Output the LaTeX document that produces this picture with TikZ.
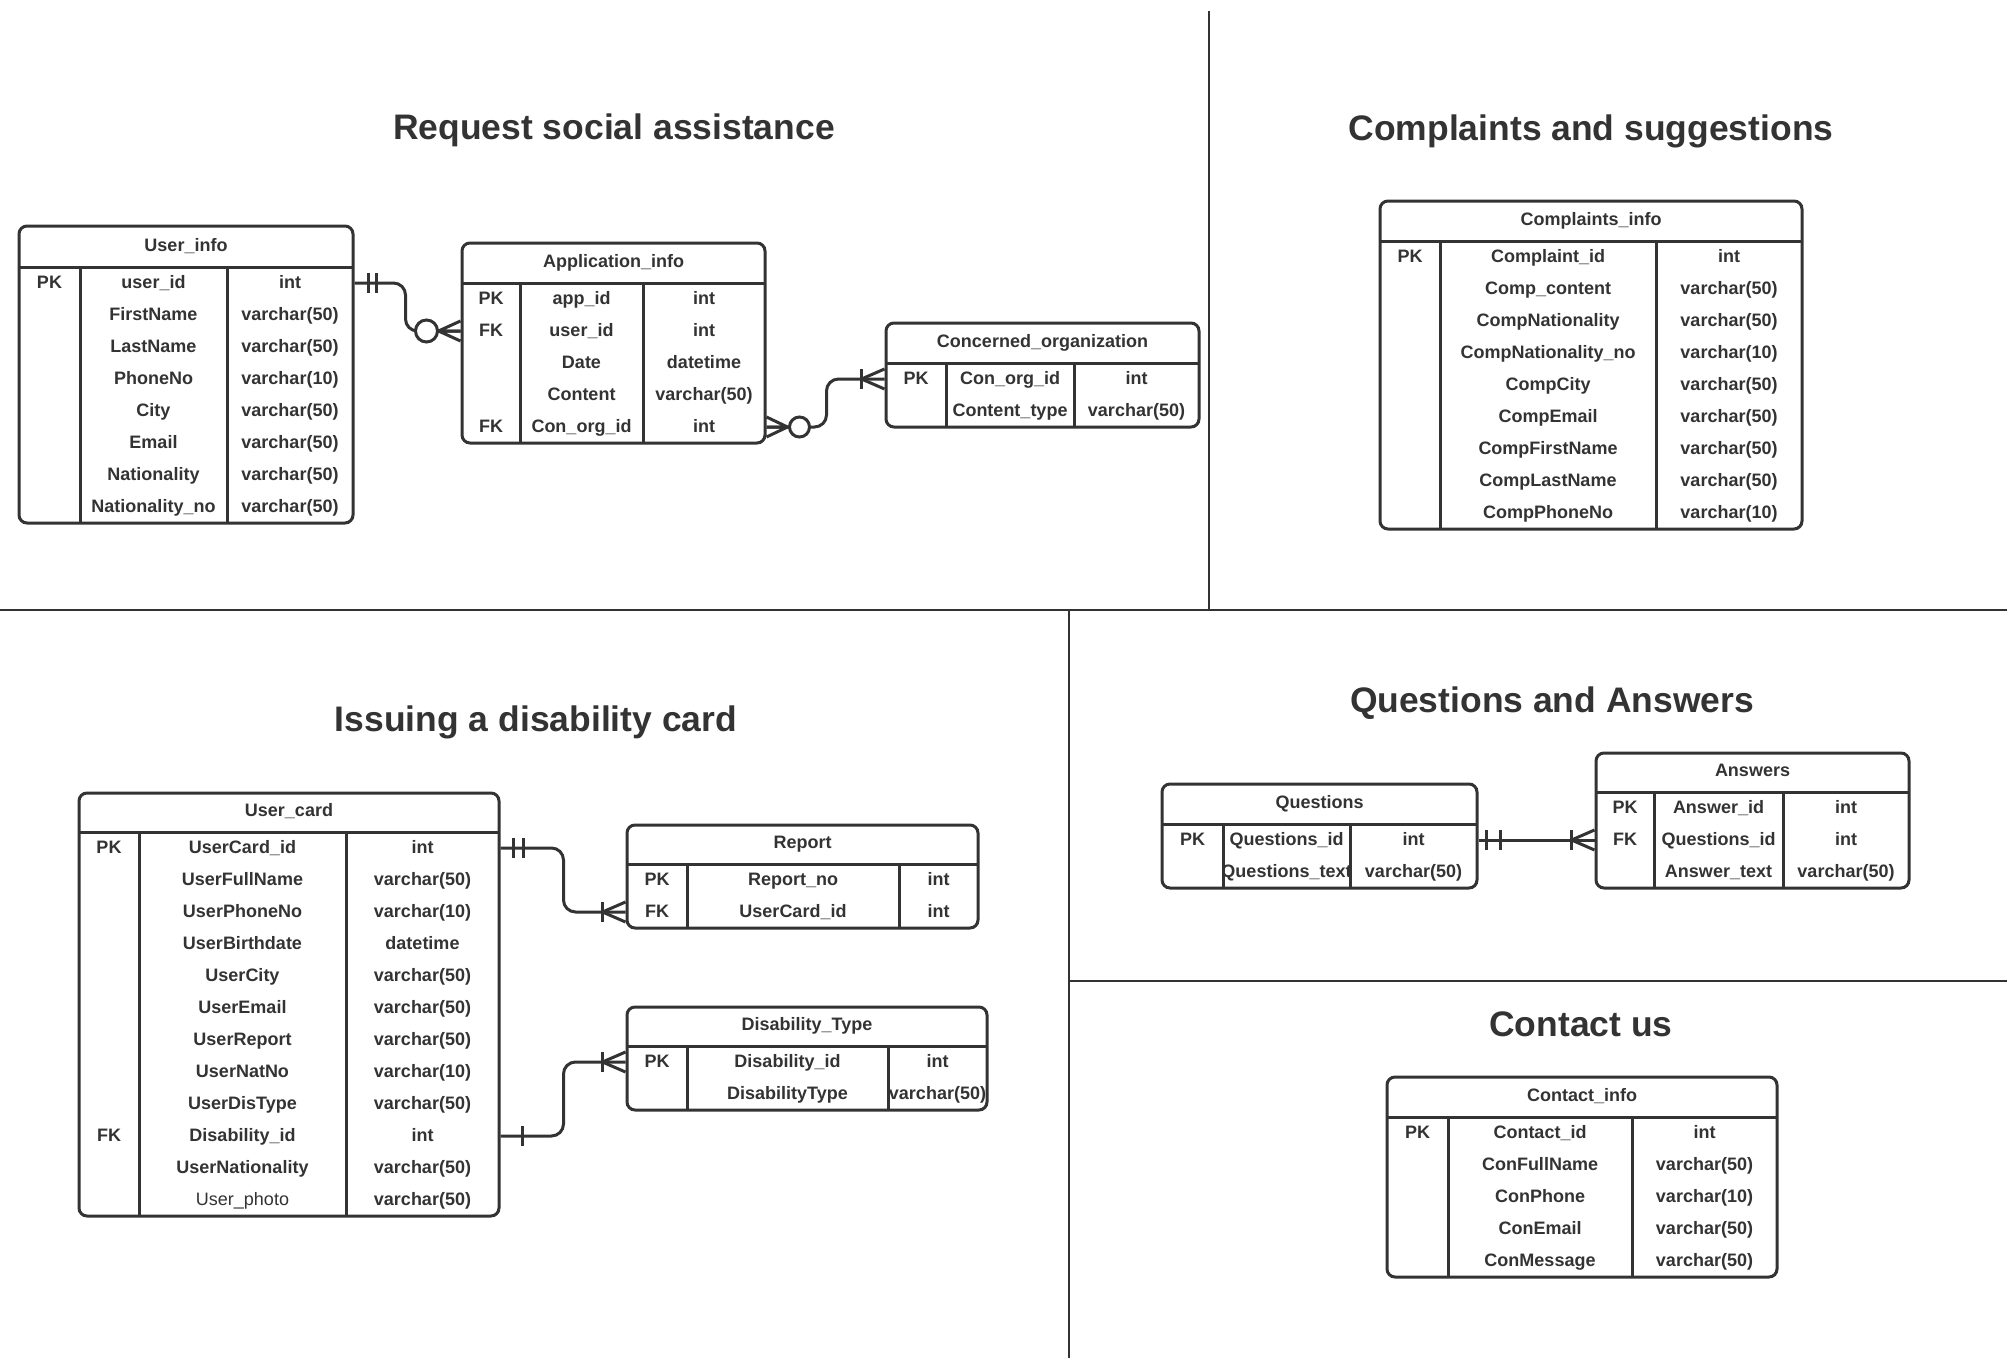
\documentclass[tikz,border=0pt]{standalone}
\usepackage{fontspec}
\setmainfont{Liberation Sans}
\usetikzlibrary{calc}
\definecolor{ink}{HTML}{333333}
\tikzset{
  tline/.style={draw=ink, line width=2.25pt},
  sline/.style={draw=ink, line width=1.5pt},
  tbox/.style={draw=ink, line width=2.25pt, rounded corners=6pt, inner sep=0pt, fill=none},
  cell/.style={anchor=base, inner sep=0pt, text=ink, font=\fontsize{13.5}{16}\selectfont\bfseries},
  ttl/.style={anchor=base, inner sep=0pt, text=ink, font=\fontsize{26.6}{30}\selectfont\bfseries},
  conn/.style={draw=ink, line width=2.25pt, rounded corners=9pt},
  ring/.style={draw=ink, line width=2.25pt, fill=white},
}
% #1 name, #2 L, #3 T, #4 R, #5 B, #6 header line y, #7 divider 1 x, #8 divider 2 x, #9 title
\newcommand\ertable[9]{%
  \node[tbox, minimum width={(#4-#2)*0.75pt}, minimum height={(#5-#3)*0.75pt}] (#1) at ({(#2+#4)/2},{(#3+#5)/2}) {};
  \draw[tline] (#2,#6) -- (#4,#6) (#7,#6) -- (#7,#5) (#8,#6) -- (#8,#5);
  \node[cell] (#1-h) at ({(#2+#4)/2},{#6-15.5}) {#9};
  \pgfmathsetmacro\hy{#6}%
  \pgfmathsetmacro\colA{(#2+#7)/2}%
  \pgfmathsetmacro\colB{(#7+#8)/2}%
  \pgfmathsetmacro\colC{(#8+#4)/2}%
}
% #1 name, #2 row index, #3 key, #4 field, #5 type
\newcommand\errow[5]{%
  \if\relax\detokenize{#3}\relax\else
    \node[cell] (#1-k) at ({\colA},{\hy+32*#2-11}) {#3};
  \fi
  \node[cell] (#1) at ({\colB},{\hy+32*#2-11}) {#4};
  \node[cell] (#1-t) at ({\colC},{\hy+32*#2-11}) {#5};
  \coordinate (#1-c) at ({\colB},{\hy+32*#2-16});
}
\begin{document}
\begin{tikzpicture}[x=0.75pt,y=-0.75pt]
\fill[white] (0,0) rectangle (2007,1360);
\useasboundingbox (0,0) rectangle (2007,1360);

% section lines
\draw[sline] (1209,11) -- (1209,610);
\draw[sline] (0,610) -- (2007,610);
\draw[sline] (1069,610) -- (1069,1358);
\draw[sline] (1069,981) -- (2007,981);

% titles
\node[ttl] (t1) at (614,139) {Request social assistance};
\node[ttl] (t2) at (1591,140) {Complaints and suggestions};
\node[ttl] (t3) at (536,731) {Issuing a disability card};
\node[ttl] (t4) at (1552,712) {Questions and Answers};
\node[ttl] (t5) at (1581,1036) {Contact us};

% User_info
\ertable{userinfo}{19}{226}{353}{523}{267}{80}{227}{User\_info}
\errow{ui1}{1}{PK}{user\_id}{int}
\errow{ui2}{2}{}{FirstName}{varchar(50)}
\errow{ui3}{3}{}{LastName}{varchar(50)}
\errow{ui4}{4}{}{PhoneNo}{varchar(10)}
\errow{ui5}{5}{}{City}{varchar(50)}
\errow{ui6}{6}{}{Email}{varchar(50)}
\errow{ui7}{7}{}{Nationality}{varchar(50)}
\errow{ui8}{8}{}{Nationality\_no}{varchar(50)}

% Application_info
\ertable{appinfo}{462}{243}{765}{443}{283}{520}{643}{Application\_info}
\errow{ai1}{1}{PK}{app\_id}{int}
\errow{ai2}{2}{FK}{user\_id}{int}
\errow{ai3}{3}{}{Date}{datetime}
\errow{ai4}{4}{}{Content}{varchar(50)}
\errow{ai5}{5}{FK}{Con\_org\_id}{int}

% Concerned_organization
\ertable{conorg}{886}{323}{1199}{427}{363}{946}{1074}{Concerned\_organization}
\errow{co1}{1}{PK}{Con\_org\_id}{int}
\errow{co2}{2}{}{Content\_type}{varchar(50)}

% Complaints_info
\ertable{compinfo}{1380}{201}{1802}{529}{241}{1440}{1656}{Complaints\_info}
\errow{ci1}{1}{PK}{Complaint\_id}{int}
\errow{ci2}{2}{}{Comp\_content}{varchar(50)}
\errow{ci3}{3}{}{CompNationality}{varchar(50)}
\errow{ci4}{4}{}{CompNationality\_no}{varchar(10)}
\errow{ci5}{5}{}{CompCity}{varchar(50)}
\errow{ci6}{6}{}{CompEmail}{varchar(50)}
\errow{ci7}{7}{}{CompFirstName}{varchar(50)}
\errow{ci8}{8}{}{CompLastName}{varchar(50)}
\errow{ci9}{9}{}{CompPhoneNo}{varchar(10)}

% User_card
\ertable{usercard}{79}{793}{499}{1216}{832}{139}{346}{User\_card}
\errow{uc1}{1}{PK}{UserCard\_id}{int}
\errow{uc2}{2}{}{UserFullName}{varchar(50)}
\errow{uc3}{3}{}{UserPhoneNo}{varchar(10)}
\errow{uc4}{4}{}{UserBirthdate}{datetime}
\errow{uc5}{5}{}{UserCity}{varchar(50)}
\errow{uc6}{6}{}{UserEmail}{varchar(50)}
\errow{uc7}{7}{}{UserReport}{varchar(50)}
\errow{uc8}{8}{}{UserNatNo}{varchar(10)}
\errow{uc9}{9}{}{UserDisType}{varchar(50)}
\errow{uc10}{10}{FK}{Disability\_id}{int}
\errow{uc11}{11}{}{UserNationality}{varchar(50)}
\errow{uc12}{12}{}{\mdseries User\_photo}{varchar(50)}

% Report
\ertable{report}{627}{825}{978}{928}{864}{687}{899}{Report}
\errow{rp1}{1}{PK}{Report\_no}{int}
\errow{rp2}{2}{FK}{UserCard\_id}{int}

% Disability_Type
\ertable{distype}{627}{1007}{987}{1110}{1046}{687}{888}{Disability\_Type}
\errow{dt1}{1}{PK}{Disability\_id}{int}
\errow{dt2}{2}{}{DisabilityType}{varchar(50)}

% Questions
\ertable{questions}{1162}{784}{1477}{888}{824}{1223}{1350}{Questions}
\errow{q1}{1}{PK}{Questions\_id}{int}
\errow{q2}{2}{}{Questions\_text}{varchar(50)}

% Answers
\ertable{answers}{1596}{753}{1909}{888}{792}{1654}{1783}{Answers}
\errow{a1}{1}{PK}{Answer\_id}{int}
\errow{a2}{2}{FK}{Questions\_id}{int}
\errow{a3}{3}{}{Answer\_text}{varchar(50)}

% Contact_info
\ertable{contact}{1387}{1077}{1777}{1277}{1117}{1448}{1632}{Contact\_info}
\errow{ct1}{1}{PK}{Contact\_id}{int}
\errow{ct2}{2}{}{ConFullName}{varchar(50)}
\errow{ct3}{3}{}{ConPhone}{varchar(10)}
\errow{ct4}{4}{}{ConEmail}{varchar(50)}
\errow{ct5}{5}{}{ConMessage}{varchar(50)}

% ---- connectors ----
% User_info -> Application_info
\coordinate (c1a) at (userinfo.east |- ui1-c);
\coordinate (c1b) at (appinfo.west |- ai2-c);
\draw[conn] (c1a) -- ++(51,0) |- (c1b);
\draw[tline] ($(c1a)+(14,-10)$) -- ++(0,20) ($(c1a)+(22,-10)$) -- ++(0,20);
\draw[tline] ($(c1b)+(-22,0)$) -- ($(c1b)+(0,-10)$) ($(c1b)+(-22,0)$) -- (c1b) ($(c1b)+(-22,0)$) -- ($(c1b)+(0,10)$);
\draw[ring] ($(c1b)+(-34,0)$) circle[radius=8.25pt];

% Application_info -> Concerned_organization
\coordinate (c2a) at (appinfo.east |- ai5-c);
\coordinate (c2b) at (conorg.west |- co1-c);
\draw[conn] (c2a) -- ++(60,0) |- (c2b);
\draw[tline] ($(c2a)+(21,0)$) -- ($(c2a)+(0,-10)$) ($(c2a)+(21,0)$) -- (c2a) ($(c2a)+(21,0)$) -- ($(c2a)+(0,10)$);
\draw[ring] ($(c2a)+(33,0)$) circle[radius=7.5pt];
\draw[tline] ($(c2b)+(-23,-10)$) -- ++(0,20);
\draw[tline] ($(c2b)+(-23,0)$) -- ($(c2b)+(0,-10)$) ($(c2b)+(-23,0)$) -- ($(c2b)+(0,10)$);

% User_card -> Report
\coordinate (c3a) at (usercard.east |- uc1-c);
\coordinate (c3b) at (report.west |- rp2-c);
\draw[conn] (c3a) -- ++(63,0) |- (c3b);
\draw[tline] ($(c3a)+(13,-10)$) -- ++(0,20) ($(c3a)+(23,-10)$) -- ++(0,20);
\draw[tline] ($(c3b)+(-23,-10)$) -- ++(0,20);
\draw[tline] ($(c3b)+(-23,0)$) -- ($(c3b)+(0,-10)$) ($(c3b)+(-23,0)$) -- ($(c3b)+(0,10)$);

% User_card -> Disability_Type
\coordinate (c4a) at (usercard.east |- uc10-c);
\coordinate (c4b) at (distype.west |- dt1-c);
\draw[conn] (c4a) -- ++(63,0) |- (c4b);
\draw[tline] ($(c4a)+(22,-10)$) -- ++(0,20);
\draw[tline] ($(c4b)+(-23,-10)$) -- ++(0,20);
\draw[tline] ($(c4b)+(-23,0)$) -- ($(c4b)+(0,-10)$) ($(c4b)+(-23,0)$) -- ($(c4b)+(0,10)$);

% Questions -> Answers
\coordinate (c5a) at (questions.east |- q1-c);
\coordinate (c5b) at (answers.west |- a2-c);
\draw[conn] (c5a) -- (c5b);
\draw[tline] ($(c5a)+(8,-10)$) -- ++(0,20) ($(c5a)+(22,-10)$) -- ++(0,20);
\draw[tline] ($(c5b)+(-23,-10)$) -- ++(0,20);
\draw[tline] ($(c5b)+(-23,0)$) -- ($(c5b)+(0,-10)$) ($(c5b)+(-23,0)$) -- ($(c5b)+(0,10)$);
\end{tikzpicture}
\end{document}
